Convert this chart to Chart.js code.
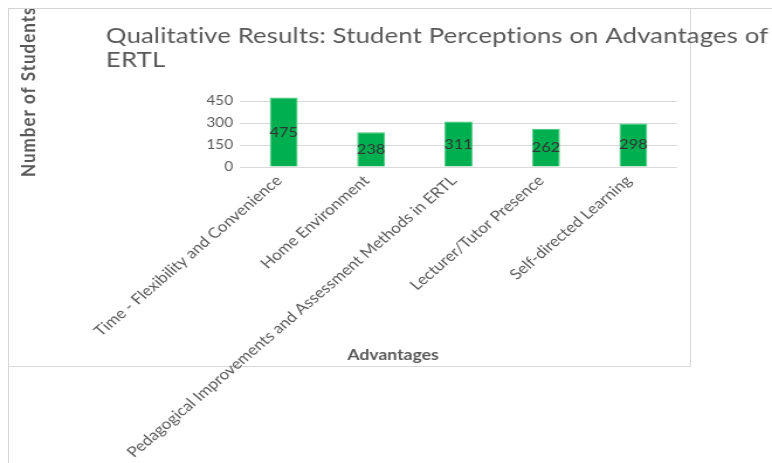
<!DOCTYPE html>
<html>
<head>
<meta charset="utf-8">
<script src="https://cdn.jsdelivr.net/npm/chart.js@4.4.1/dist/chart.umd.min.js"></script>
<style>
  html, body { margin: 0; padding: 0; background: #fff; }
  #wrap { position: relative; width: 772px; height: 463px; overflow: hidden; }
  .frame { position: absolute; left: 8px; top: 8px; right: 0; bottom: 0;
           border-left: 1px solid #d4d4d4; border-top: 1px solid #d4d4d4; }
  .box { position: absolute; left: 8px; top: 8px; width: 682px; height: 358px;
         border-right: 1px solid #d9d9d9; border-bottom: 1px solid #d9d9d9; }
  /* the original picture is stretched sideways, so the chart is too */
  .stretch { position: absolute; left: 0; top: 0; width: 660px; height: 463px;
             transform: scaleX(1.1697); transform-origin: 0 0; }
  canvas { display: block; }
</style>
</head>
<body>
<div id="wrap">
  <div class="frame"></div>
  <div class="box"></div>
  <div class="stretch"><canvas id="chart" width="660" height="463" style="width:660px;height:463px"></canvas></div>
</div>
<script>
// data
const categories = [
  'Time - Flexibility and Convenience',
  'Home Environment',
  'Pedagogical Improvements and Assessment Methods in ERTL',
  'Lecturer/Tutor Presence',
  'Self-directed Learning'
];
const students = [475, 238, 311, 262, 298];
const yTickLabels = [0, 150, 300, 450];

const titleLines = ['Qualitative Results: Student Perceptions on Advantages of', 'ERTL'];
const yTitle = 'Number of Students';
const xTitle = 'Advantages';

const grey = '#595959';

// values printed in the middle of each bar
const barValueLabels = {
  id: 'barValueLabels',
  afterDatasetsDraw(chart) {
    const ctx = chart.ctx;
    const meta = chart.getDatasetMeta(0);
    ctx.save();
    ctx.font = '14px Lato';
    ctx.fillStyle = '#333333';
    ctx.textAlign = 'center';
    ctx.textBaseline = 'middle';
    meta.data.forEach((bar, i) => {
      ctx.fillText(String(students[i]), bar.x, (bar.y + bar.base) / 2);
    });
    ctx.restore();
  }
};

// chart title and axis titles sit off-centre in the original, so they are drawn by hand
const chartTexts = {
  id: 'chartTexts',
  afterDraw(chart) {
    const ctx = chart.ctx;
    ctx.save();
    ctx.fillStyle = grey;

    // main title, loosely spaced so the first line ends where the original does
    ctx.save();
    ctx.font = '22px Lato';
    ctx.textAlign = 'left';
    ctx.textBaseline = 'alphabetic';
    const target = 567;
    ctx.letterSpacing = '0px';
    const w0 = ctx.measureText(titleLines[0]).width;
    ctx.letterSpacing = '1px';
    const w1 = ctx.measureText(titleLines[0]).width;
    const sp = w1 > w0 ? (target - w0) / (w1 - w0) : 0;
    ctx.letterSpacing = Math.max(0, sp).toFixed(2) + 'px';
    ctx.fillText(titleLines[0], 90.6, 42.5);
    ctx.fillText(titleLines[1], 90.6, 66.5);
    ctx.restore();

    // y axis title, clipped by the chart frame
    ctx.save();
    ctx.beginPath();
    ctx.rect(8, 9, 581, 356);
    ctx.clip();
    ctx.translate(24.8, 177);
    ctx.rotate(-Math.PI / 2);
    ctx.font = 'bold 17px Lato';
    ctx.textAlign = 'left';
    ctx.textBaseline = 'middle';
    ctx.letterSpacing = '1px';
    ctx.fillText(yTitle, 0, 0);
    ctx.restore();

    ctx.font = 'bold 15px Lato';
    ctx.textAlign = 'center';
    ctx.textBaseline = 'middle';
    ctx.fillText(xTitle, 336, 355);
    ctx.restore();
  }
};

new Chart(document.getElementById('chart'), {
  type: 'bar',
  data: {
    labels: categories,
    datasets: [{
      label: yTitle,
      data: students,
      backgroundColor: '#00b050',
      borderColor: '#3fc878',
      borderWidth: 1,
      barPercentage: 0.32,
      categoryPercentage: 1
    }]
  },
  options: {
    responsive: false,
    animation: false,
    devicePixelRatio: 1,
    layout: { padding: { left: 90.6, right: 81.2, top: 86.5, bottom: 0 } },
    plugins: {
      legend: { display: false },
      tooltip: { enabled: false },
      title: { display: false }
    },
    scales: {
      x: {
        grid: { display: false },
        border: { display: false },
        ticks: {
          color: grey,
          font: { family: 'Lato', size: 14.6 },
          autoSkip: false,
          minRotation: 45,
          maxRotation: 45,
          padding: -3,
          labelOffset: -4
        },
        afterFit(scale) { scale.height = 296; }
      },
      y: {
        min: 0,
        max: 550,
        grid: { color: '#d9d9d9', drawTicks: false },
        border: { display: false },
        ticks: {
          stepSize: 50,
          color: grey,
          padding: 6,
          font: { family: 'Lato', size: 13 },
          callback: (v) => yTickLabels.includes(v) ? String(v) : ''
        },
        afterFit(scale) { scale.width = 114.6; }
      }
    }
  },
  plugins: [barValueLabels, chartTexts]
});
</script>
</body>
</html>
